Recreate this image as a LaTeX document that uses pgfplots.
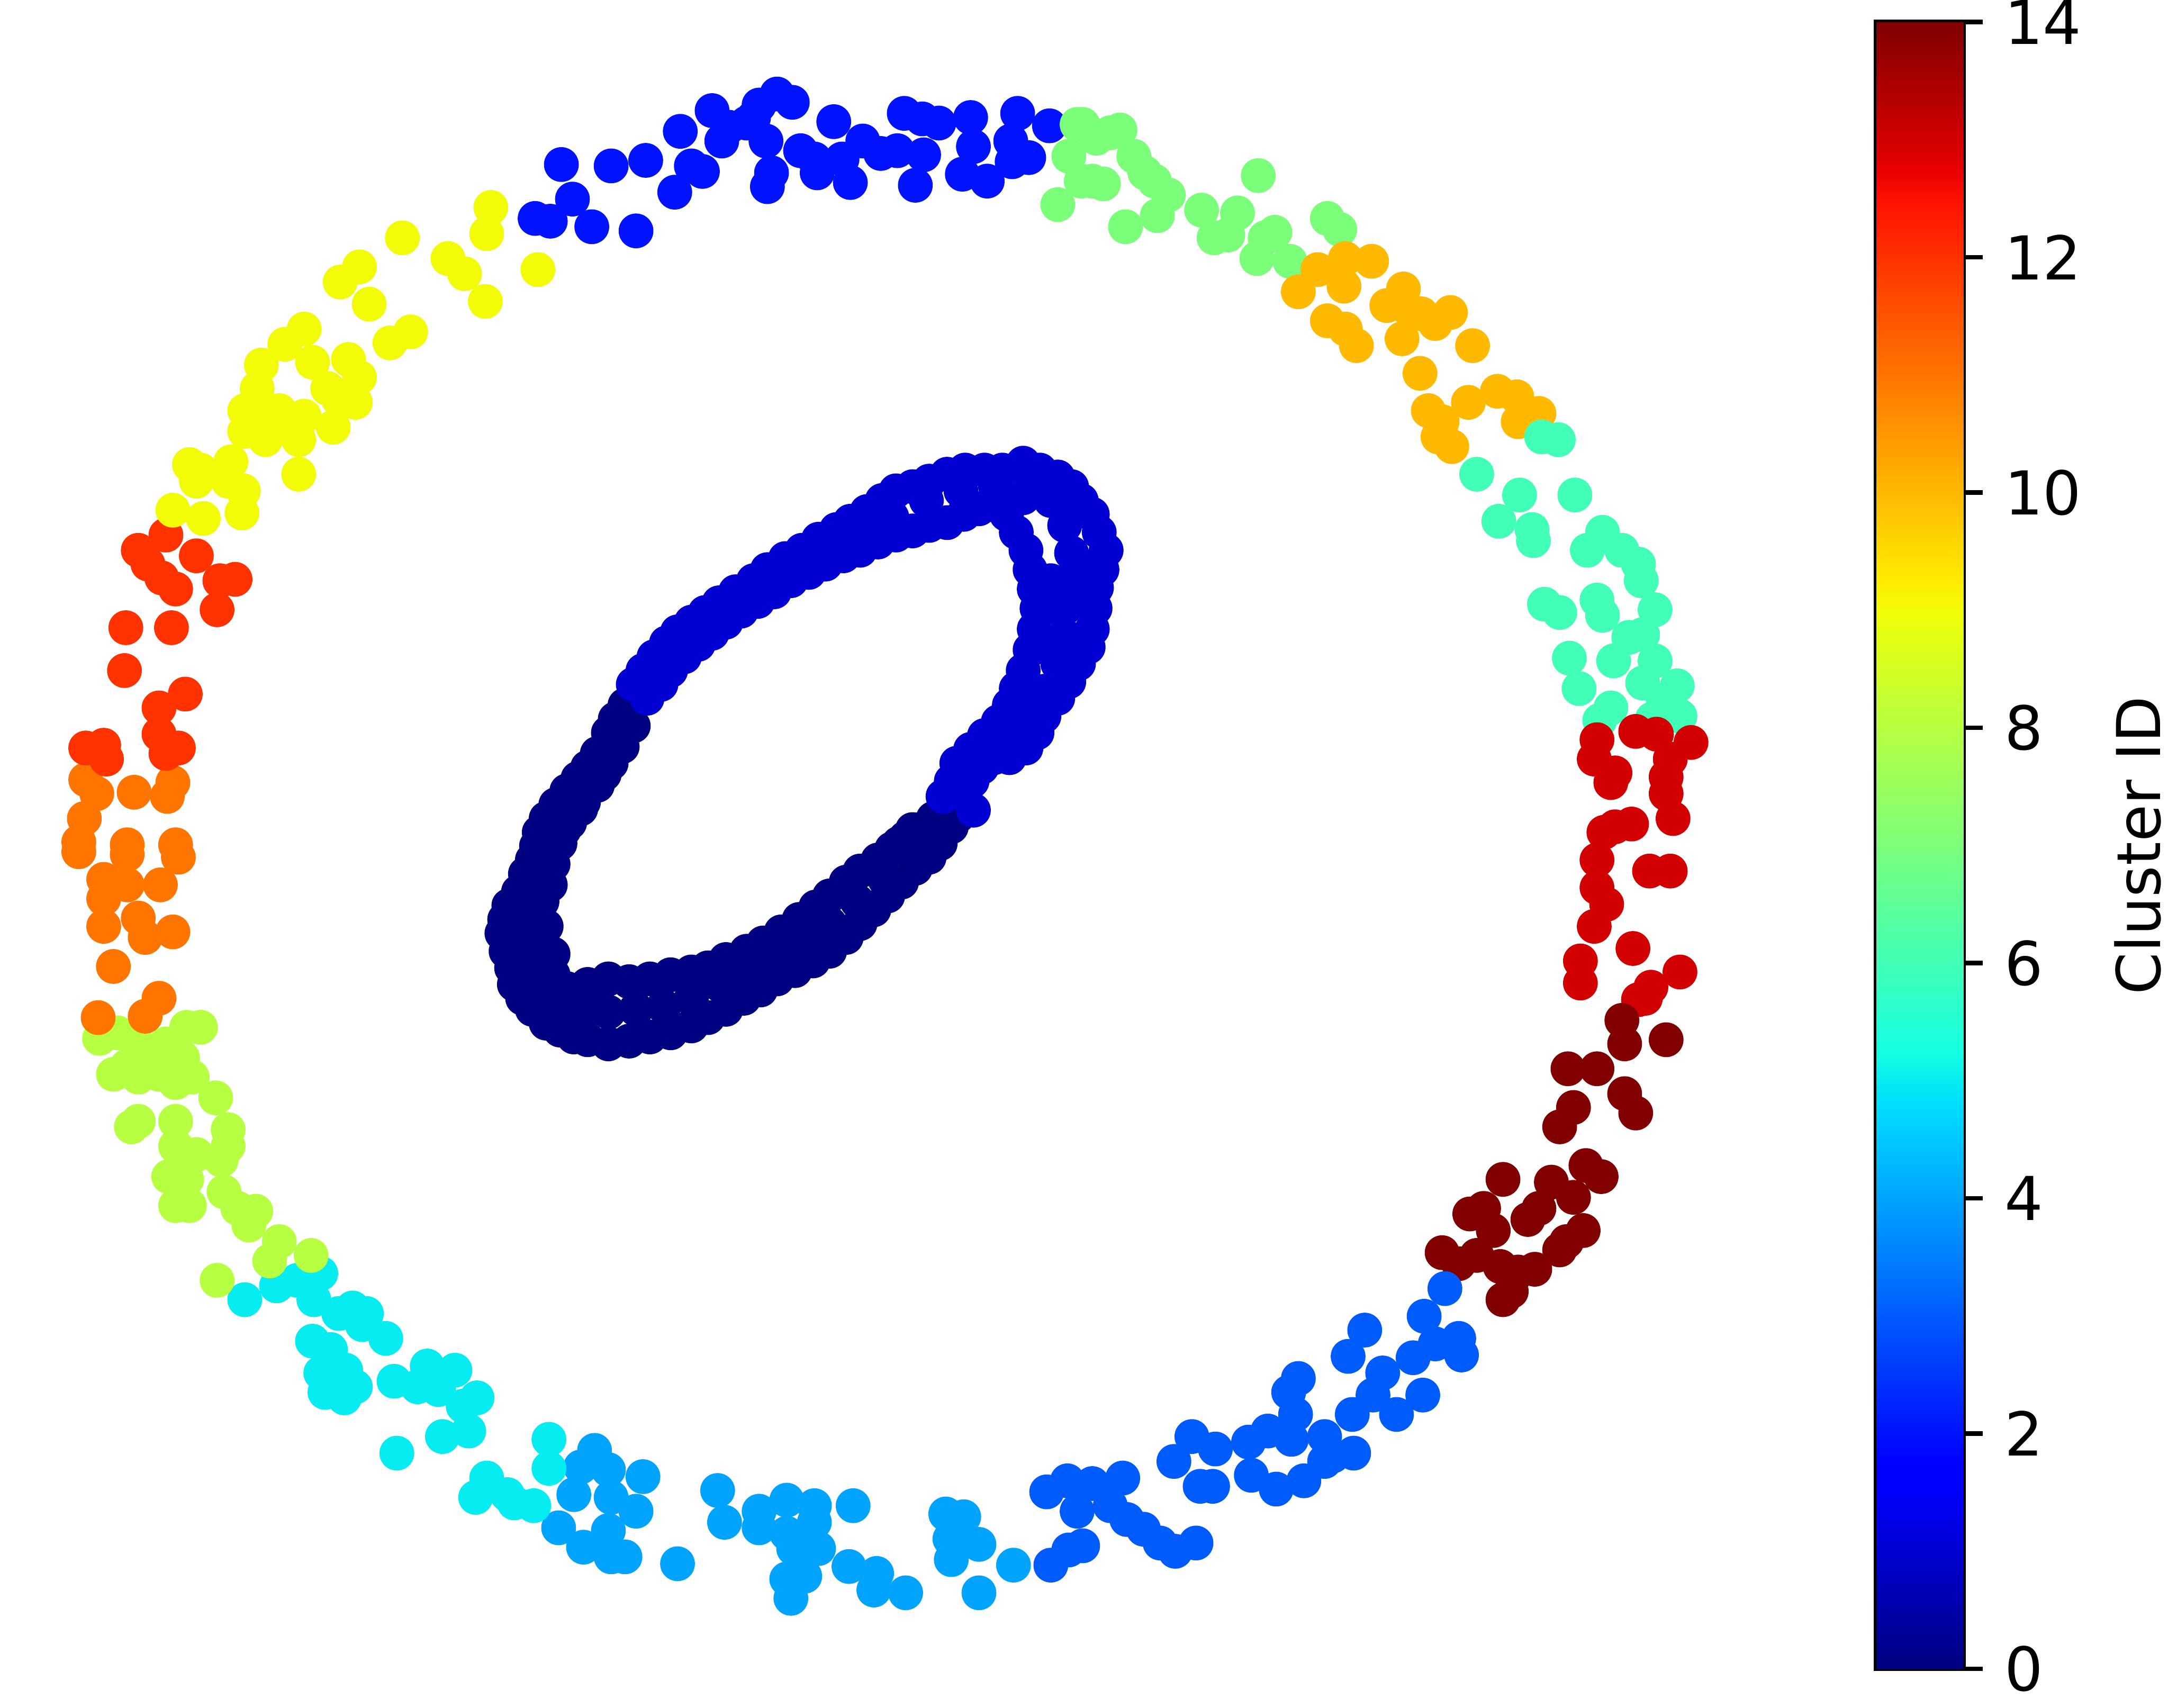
\documentclass[border=0pt]{standalone}
\usepackage{pgfplots}
\pgfplotsset{compat=1.18}
\usepackage{pgfplotstable}
\usepackage{fontspec}
\setmainfont{DejaVu Sans}

\pgfplotsset{
  colormap={mjet}{rgb(0pt)=(0,0,0.5); rgb(110pt)=(0,0,1); rgb(125pt)=(0,0,1);
    rgb(340pt)=(0,0.86,1); rgb(350pt)=(0,0.9,0.968); rgb(375pt)=(0.081,1,0.887);
    rgb(640pt)=(0.935,1,0.032); rgb(650pt)=(0.968,0.963,0); rgb(660pt)=(1,0.926,0);
    rgb(890pt)=(1,0.074,0); rgb(910pt)=(0.909,0,0); rgb(1000pt)=(0.5,0,0)}
}

\pgfplotstableread{
x y c
406 119 2
442 120 2
467 116 2
492 95 2
515 80 2
522 102 2
500 120 2
508 124 2
488 139 2
460 167 2
428 164 2
414 144 2
387 158 2
398 160 2
540 89 2
549 76 2
562 68 2
573 74 2
554 102 2
558 125 2
555 135 2
579 109 2
591 125 2
609 115 2
615 132 2
603 88 2
624 102 2
637 111 2
649 109 2
654 82 2
667 86 2
679 89 2
668 112 2
662 134 2
702 85 2
704 106 2
696 126 2
714 131 2
736 82 2
731 102 2
744 114 2
732 117 2
759 91 2
589 115 2
527 92 2
545 85 2
779 90 7
773 113 7
765 148 7
782 131 7
783 90 7
803 96 7
810 94 7
793 100 7
820 113 7
790 131 7
798 133 7
835 131 7
845 141 7
814 164 7
837 156 7
869 152 7
895 154 7
878 172 7
888 170 7
910 127 7
922 168 7
909 187 7
960 158 7
969 166 7
933 189 7
915 172 7
828 125 7
953 195 10
973 187 10
992 189 10
972 207 10
939 211 10
960 232 10
973 238 10
981 250 10
1003 221 10
1015 209 10
1028 227 10
1038 234 10
1049 226 10
1014 245 10
1065 250 10
1027 270 10
1033 297 10
1043 305 10
1062 291 10
1083 283 10
1097 287 10
1113 299 10
1098 305 10
1040 316 10
1050 323 10
1020 225 10
1115 316 6
1127 318 6
1068 343 6
1099 358 6
1139 358 6
1084 377 6
1108 383 6
1109 391 6
1159 385 6
1148 398 6
1173 398 6
1185 408 6
1187 420 6
1117 437 6
1128 443 6
1155 434 6
1159 445 6
1197 441 6
1178 461 6
1188 459 6
1135 476 6
1167 478 6
1197 478 6
1142 498 6
1188 494 6
1213 496 6
1165 512 6
1157 521 6
1195 520 6
1215 518 6
1203 508 6
1183 529 13
1198 531 13
1155 535 13
1223 537 13
1153 549 13
1168 559 13
1208 549 13
1205 562 13
1165 566 13
1205 574 13
1210 592 13
1180 596 13
1160 602 13
1168 598 13
1155 622 13
1155 642 13
1193 630 13
1208 630 13
1162 654 13
1153 670 13
1181 686 13
1143 695 13
1143 711 13
1215 703 13
1194 714 13
1185 723 13
1190 722 13
1173 738 14
1175 755 14
1205 752 14
1134 773 14
1155 773 14
1175 791 14
1183 805 14
1138 801 14
1128 815 14
1147 843 14
1158 851 14
1087 853 14
1122 855 14
1138 866 14
1063 878 14
1073 874 14
1080 890 14
1105 882 14
1113 874 14
1145 890 14
1128 904 14
1133 898 14
1043 906 14
1055 914 14
1068 908 14
1085 916 14
1098 920 14
1110 918 14
1087 940 14
1093 934 14
1045 932 3
1030 952 3
1055 968 3
1057 980 3
987 962 3
975 981 3
1022 982 3
1038 972 3
1000 993 3
993 1009 3
1010 1023 3
1029 1009 3
978 1023 3
939 997 3
932 1007 3
937 1023 3
917 1035 3
934 1041 3
903 1043 3
958 1039 3
964 1053 3
979 1051 3
958 1057 3
905 1067 3
923 1077 3
943 1071 3
862 1039 3
879 1048 3
849 1057 3
868 1075 3
877 1075 3
812 1069 3
790 1073 3
803 1089 3
815 1099 3
827 1106 3
839 1116 3
850 1122 3
865 1116 3
783 1118 3
757 1079 3
772 1071 3
779 1093 3
760 1132 3
773 1121 3
430 1049 4
420 1061 4
440 1063 4
465 1068 4
442 1083 4
415 1081 4
460 1093 4
404 1105 4
440 1107 4
422 1119 4
452 1126 4
442 1126 4
490 1131 4
519 1078 4
524 1101 4
549 1093 4
569 1085 4
589 1089 4
549 1105 4
569 1109 4
589 1101 4
592 1120 4
574 1120 4
569 1142 4
582 1140 4
572 1156 4
617 1089 4
614 1133 4
634 1138 4
632 1150 4
655 1152 4
684 1095 4
697 1097 4
687 1113 4
708 1117 4
688 1128 4
708 1152 4
733 1132 4
177 940 5
200 930 5
215 926 5
232 921 5
227 940 5
245 950 5
255 946 5
265 950 5
262 958 5
279 968 5
226 970 5
239 976 5
232 993 5
250 991 5
257 1003 5
235 1007 5
249 1011 5
285 999 5
309 988 5
302 1003 5
317 1005 5
329 991 5
345 1011 5
335 1017 5
287 1051 5
320 1039 5
339 1035 5
397 1041 5
397 1062 5
352 1069 5
344 1083 5
367 1081 5
372 1087 5
386 1089 5
72 751 8
85 747 8
97 749 8
120 755 8
135 743 8
145 743 8
132 765 8
82 777 8
100 779 8
115 777 8
127 783 8
139 779 8
156 794 8
100 811 8
95 815 8
127 811 8
165 817 8
165 829 8
127 829 8
142 835 8
160 839 8
122 851 8
135 853 8
162 862 8
172 874 8
185 876 8
180 886 8
127 872 8
137 872 8
202 898 8
195 912 8
225 908 8
157 926 8
107 763 8
92 771 8
57 616 11
92 618 11
129 620 11
75 636 11
92 640 11
116 640 11
75 650 11
100 664 11
75 670 11
125 674 11
105 678 11
82 699 11
115 722 11
105 735 11
71 736 11
62 564 11
70 574 11
61 592 11
97 573 11
125 566 11
121 576 11
57 609 11
92 611 11
127 611 11
100 398 12
120 387 12
107 408 12
117 418 12
127 426 12
142 402 12
159 420 12
170 419 12
157 441 12
91 454 12
124 454 12
90 485 12
115 512 12
134 502 12
62 541 12
75 539 12
77 549 12
115 531 12
129 541 12
120 545 12
355 150 9
352 169 9
291 172 9
324 187 9
336 198 9
351 218 9
389 195 9
260 193 9
246 204 9
267 220 9
297 240 9
282 248 9
220 238 9
206 249 9
189 264 9
226 262 9
252 260 9
260 273 9
186 281 9
177 297 9
197 301 9
220 301 9
237 281 9
257 291 9
241 309 9
216 318 9
177 312 9
192 318 9
216 343 9
137 336 9
145 340 9
167 334 9
142 348 9
165 348 9
176 355 9
125 369 9
147 375 9
175 371 9
245 289 9
210 305 9
202 297 9
452 510 0
445 520 0
440 530 0
432 545 0
425 555 0
418 563 0
410 572 0
402 582 0
395 592 0
390 602 0
388 612 0
385 622 0
380 632 0
375 645 0
368 655 0
365 665 0
363 675 0
366 688 0
370 700 0
372 712 0
378 722 0
385 730 0
395 740 0
405 745 0
415 750 0
425 752 0
440 755 0
455 753 0
470 750 0
485 747 0
500 742 0
512 736 0
525 730 0
538 722 0
550 716 0
562 708 0
575 702 0
588 695 0
600 688 0
612 678 0
622 668 0
632 658 0
642 648 0
652 638 0
662 628 0
672 620 0
680 610 0
688 598 0
693 590 0
458 525 0
450 540 0
442 552 0
432 568 0
422 580 0
412 595 0
405 610 0
400 625 0
398 640 0
392 652 0
388 665 0
390 680 0
395 695 0
400 705 0
410 715 0
425 712 0
440 708 0
455 710 0
470 708 0
485 705 0
500 703 0
512 700 0
525 694 0
540 688 0
552 682 0
565 674 0
578 665 0
590 656 0
600 648 0
612 638 0
622 630 0
635 622 0
645 614 0
655 606 0
665 600 0
675 592 0
683 586 0
447 535 0
437 560 0
420 585 0
408 600 0
397 620 0
385 650 0
378 670 0
380 700 0
390 720 0
405 730 0
420 735 0
440 732 0
460 730 0
480 728 0
500 722 0
520 712 0
540 705 0
560 692 0
580 680 0
600 668 0
620 652 0
640 636 0
660 616 0
675 604 0
660 600 0
650 610 0
430 720 0
415 725 0
400 690 0
395 670 0
375 690 0
458 495 1
465 485 1
473 475 1
482 465 1
490 457 1
500 450 1
510 443 1
520 436 1
532 428 1
545 420 1
555 412 1
568 404 1
580 398 1
592 390 1
605 383 1
615 377 1
627 370 1
638 362 1
648 355 1
660 352 1
672 348 1
685 343 1
698 340 1
712 340 1
725 340 1
740 335 1
752 340 1
765 345 1
775 352 1
782 362 1
790 372 1
795 385 1
800 398 1
797 412 1
793 425 1
792 440 1
790 455 1
787 468 1
780 480 1
773 493 1
765 505 1
755 518 1
750 530 1
742 541 1
730 548 1
719 548 1
710 555 1
703 565 1
698 575 1
704 586 1
468 505 1
478 495 1
485 485 1
495 475 1
505 466 1
515 458 1
525 450 1
536 442 1
548 435 1
560 428 1
572 420 1
585 414 1
597 408 1
610 402 1
622 398 1
635 392 1
648 387 1
660 384 1
672 380 1
685 378 1
697 372 1
708 368 1
718 365 1
728 372 1
735 385 1
742 398 1
745 412 1
748 426 1
750 440 1
748 455 1
745 470 1
740 485 1
735 498 1
730 510 1
722 522 1
712 532 1
702 542 1
692 552 1
688 565 1
682 576 1
478 478 1
498 462 1
520 445 1
545 430 1
570 412 1
595 398 1
620 387 1
645 374 1
670 362 1
695 355 1
720 352 1
745 355 1
760 362 1
770 380 1
775 400 1
772 420 1
770 440 1
770 460 1
765 480 1
755 500 1
745 515 1
735 530 1
720 535 1
705 545 1
760 470 1
780 430 1
785 410 1
760 420 1
765 440 1
740 360 1
}\pts

\begin{document}
\begin{tikzpicture}
\useasboundingbox (0,0) rectangle (16cm,12.602cm);
\begin{axis}[
  at={(0,0)}, anchor=south west,
  scale only axis, width=16cm, height=12.602cm,
  xmin=0, xmax=1568, ymin=0, ymax=1235, y dir=reverse,
  hide axis, clip=false,
  colormap name=mjet, point meta min=0, point meta max=14,
]
\addplot[scatter, only marks, mark=*, mark size=3.45pt,
  scatter/use mapped color={draw=mapped color, fill=mapped color},
  point meta=explicit] table[x=x, y=y, meta=c] {\pts};
\end{axis}
\begin{axis}[
  at={(13.847cm,0.2857cm)}, anchor=south west,
  scale only axis, width=0.643cm, height=12.153cm,
  xmin=0, xmax=1, ymin=0, ymax=14,
  colormap name=mjet, point meta min=0, point meta max=14,
  axis line style={line width=1pt},
  xtick=\empty, ytick={0,2,...,14}, ytick pos=right, yticklabel pos=right,
  tick align=outside, major tick length=4.1pt,
  every tick/.style={black, line width=0.95pt},
  /pgf/number format/assume math mode=true,
  tick label style={font=\fontsize{12.7}{15}\selectfont},
  yticklabel style={xshift=1pt},
  ylabel={Cluster ID}, ylabel near ticks,
  label style={font=\fontsize{12.7}{15}\selectfont},
]
\addplot[surf, shader=interp, point meta=y] coordinates {
(0,0) (1,0)

(0,14) (1,14)
};
\end{axis}
\end{tikzpicture}
\end{document}
